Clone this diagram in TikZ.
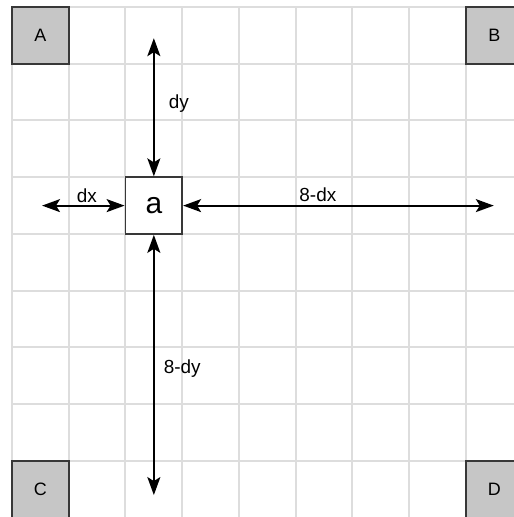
\documentclass[tikz,border=0pt]{standalone}
\usepackage{fontspec}
\setmainfont{Liberation Sans}
\usepackage{tikz}
\usetikzlibrary{arrows.meta, positioning}

\definecolor{gridgray}{HTML}{DDDDDD}
\definecolor{cornerfill}{HTML}{C6C6C6}
\definecolor{cornerdraw}{HTML}{383838}

\begin{document}
\begin{tikzpicture}[>={Stealth[length=9pt, width=6.5pt, inset=2pt]},
    gridline/.style={draw=gridgray, line width=1pt},
    corner/.style={draw=cornerdraw, fill=cornerfill, line width=1.1pt,
        minimum size=1cm, inner sep=0pt, font=\fontsize{9}{10}\selectfont},
    cellbox/.style={draw=cornerdraw, fill=white, line width=0.9pt,
        minimum size=1cm, inner sep=0pt, font=\fontsize{15}{16}\selectfont},
    dist/.style={<->, line width=1pt},
    lbl/.style={font=\fontsize{9.5}{11}\selectfont, inner sep=1pt}]

    % =================================================================
    % 1. KHUNG HINH VA LUOI O VUONG
    % =================================================================
    \clip (-0.211,0.123) rectangle (8.846,-8.987);
    \fill[white] (-0.211,0.123) rectangle (8.846,-8.987);
    \draw[gridline] (0,0) grid (9,-9);

    % =================================================================
    % 2. CAC O GOC VA O a
    % =================================================================
    \node[corner] (A) at (0.5,-0.5) {A};
    \node[corner] (B) at (8.5,-0.5) {B};
    \node[corner] (C) at (0.5,-8.5) {C};
    \node[corner] (D) at (8.5,-8.5) {D};

    \node[cellbox] (a) at (2.5,-3.5) {a};

    % =================================================================
    % 3. DAU MUT CAC MUI TEN
    % =================================================================
    \coordinate (up) at (2.5,-0.55);
    \coordinate (down) at (2.5,-8.6);
    \coordinate (left) at (0.53,-3.5);
    \coordinate (right) at (8.49,-3.5);

    % =================================================================
    % 4. MUI TEN KHOANG CACH
    % =================================================================
    \draw[dist] (a.north) -- (up);
    \draw[dist] (a.south) -- (down);
    \draw[dist] (a.west) -- (left);
    \draw[dist] (a.east) -- (right);

    % =================================================================
    % 5. NHAN KHOANG CACH
    % =================================================================
    \node[lbl] (ldy) at (2.94,-1.71) {dy};
    \node[lbl] (ldx) at (1.32,-3.33) {dx};
    \node[lbl] (l8dx) at (5.39,-3.31) {8-dx};
    \node[lbl] (l8dy) at (3.0,-6.38) {8-dy};

\end{tikzpicture}
\end{document}
